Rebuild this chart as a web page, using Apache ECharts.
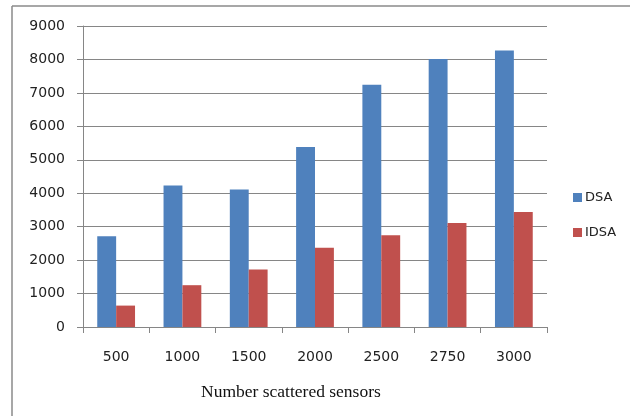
<!DOCTYPE html>
<html>
<head>
<meta charset="utf-8">
<script src="https://cdn.jsdelivr.net/npm/echarts@6/dist/echarts.min.js"></script>
<style>
html,body{margin:0;padding:0;background:#fff;}
#main{width:630px;height:416px;}
</style>
</head>
<body>
<div id="main"></div>
<script>
var categories = ['500','1000','1500','2000','2500','2750','3000'];
var dsa = [2710, 4230, 4110, 5380, 7240, 8010, 8270];
var idsa = [640, 1250, 1720, 2370, 2740, 3110, 3440];
var seriesNames = ['DSA','IDSA'];
var xTitle = 'Number scattered sensors';

var chart = echarts.init(document.getElementById('main'), null, {renderer:'canvas'});
var axisGray = '#868686';
chart.setOption({
  animation: false,
  backgroundColor: '#fff',
  grid: {left: 83, right: 83, top: 26, bottom: 89, containLabel: false},
  legend: {
    orient: 'vertical',
    left: 573, top: 191, padding: 0,
    itemWidth: 9, itemHeight: 9, itemGap: 22,
    icon: 'rect',
    textStyle: {fontFamily: 'DejaVu Sans', fontSize: 13, color: '#222', padding: [0,0,0,-2]},
    data: seriesNames
  },
  xAxis: {
    type: 'category',
    data: categories,
    axisLine: {lineStyle: {color: axisGray, width: 1}},
    axisTick: {show: true, length: 6, lineStyle: {color: axisGray}},
    axisLabel: {fontFamily: 'DejaVu Sans', fontSize: 14, color: '#222', margin: 23}
  },
  yAxis: {
    type: 'value',
    min: 0, max: 9000, interval: 1000,
    axisLine: {show: true, lineStyle: {color: axisGray, width: 1}},
    axisTick: {show: true, length: 6, lineStyle: {color: axisGray}},
    axisLabel: {fontFamily: 'DejaVu Sans', fontSize: 14, color: '#222', margin: 18,
      formatter: function (v) { return String(v); }},
    splitLine: {lineStyle: {color: axisGray, width: 1}}
  },
  graphic: [
    {type: 'line', shape: {x1: 12, y1: 6, x2: 630, y2: 6}, style: {stroke: '#8a8a8a', lineWidth: 1.5}},
    {type: 'line', shape: {x1: 12, y1: 6, x2: 12, y2: 416}, style: {stroke: '#8a8a8a', lineWidth: 1.5}},
    {type: 'text', left: 201, top: 383, style: {text: xTitle, font: '17.5px "Liberation Serif"', fill: '#111'}}
  ],
  series: [
    {name: seriesNames[0], type: 'bar', data: dsa, barGap: '0%', barCategoryGap: '43%',
     itemStyle: {color: '#4F81BD'}},
    {name: seriesNames[1], type: 'bar', data: idsa, barGap: '0%', barCategoryGap: '43%',
     itemStyle: {color: '#C0504D'}}
  ]
});
</script>
</body>
</html>
